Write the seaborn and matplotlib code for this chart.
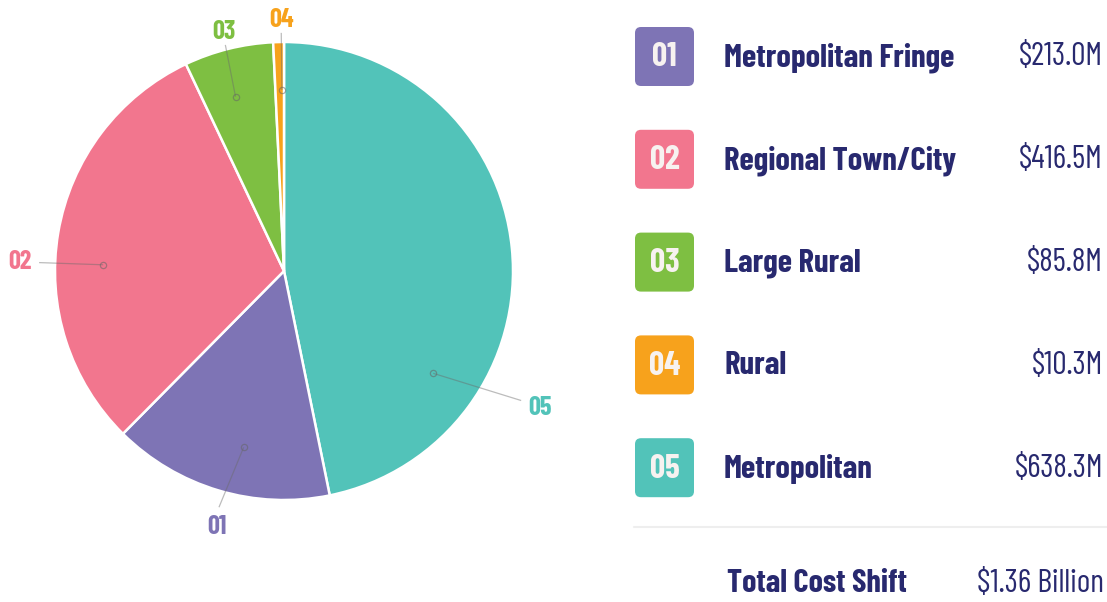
import matplotlib
matplotlib.use('Agg')
import matplotlib.pyplot as plt
import seaborn as sns
import numpy as np
from matplotlib import font_manager
from matplotlib.patches import FancyBboxPatch

# ---------------- data ----------------
codes = ['01', '02', '03', '04', '05']
names = ['Metropolitan Fringe', 'Regional Town/City', 'Large Rural', 'Rural', 'Metropolitan']
values = [213.0, 416.5, 85.8, 10.3, 638.3]
value_labels = ['$213.0M', '$416.5M', '$85.8M', '$10.3M', '$638.3M']
total_label = 'Total Cost Shift'
total_value = '$1.36 Billion'
colors = ['#7E74B5', '#F2768E', '#7EBF42', '#F7A21C', '#52C3B9']
pie_order = [4, 0, 1, 2, 3]          # clockwise from 12 o'clock
label_shift = [3.7, 7.7, 1.5, -0.7, -40.2]   # degrees, leader anchor tweak
leader_turn = [-2.5, 0.0, -1.0, 0.0, 5.8]
leader_len = [1.07, 1.07, 1.02, 1.04, 1.18]

sns.set_theme(style='white')
avail = {f.name for f in font_manager.fontManager.ttflist}
cands = ['Barlow Condensed', 'Roboto Condensed', 'Open Sans Condensed',
         'Liberation Sans Narrow', 'DejaVu Sans Condensed', 'Roboto', 'DejaVu Sans']
FONT = next(c for c in cands if c in avail)
plt.rcParams['font.family'] = [FONT, 'DejaVu Sans']

NAVY = '#28296F'
BOLD = 700

fig = plt.figure(figsize=(11.07, 6.02), dpi=100)
renderer = fig.canvas.get_renderer()

# ---------------- pie ----------------
R = 229.0
half = 1.3 * R
ax = fig.add_axes([(284 - half) / 1107, (602 - 271 - half) / 602, 2 * half / 1107, 2 * half / 602])
wedges, _ = ax.pie([values[i] for i in pie_order], colors=[colors[i] for i in pie_order],
                   startangle=90, counterclock=False, radius=1,
                   wedgeprops=dict(edgecolor='white', linewidth=1.8))
ax.set_xlim(-1.3, 1.3)
ax.set_ylim(-1.3, 1.3)
ax.axis('off')

for k, w in enumerate(wedges):
    i = pie_order[k]
    mid = (w.theta1 + w.theta2) / 2 + label_shift[i]
    a = np.deg2rad(mid)
    b = np.deg2rad(mid + leader_turn[i])
    dot = (0.79 * np.cos(a), 0.79 * np.sin(a))
    end = (leader_len[i] * np.cos(b), leader_len[i] * np.sin(b))
    ax.plot([dot[0], end[0]], [dot[1], end[1]], color='#6b6b6b', lw=0.9, alpha=0.45,
            solid_capstyle='butt', clip_on=False)
    ax.plot([dot[0]], [dot[1]], marker='o', ms=4.5, mfc='none', mec='#666666',
            mew=0.9, alpha=0.55, clip_on=False)
    c, s = np.cos(b), np.sin(b)
    ha = 'left' if c > 0.5 else ('right' if c < -0.5 else 'center')
    if s > 0.5:
        va, off = 'baseline', 4.5
    elif s < -0.5:
        va, off = 'top', 6.0
    else:
        va, off = 'center', 5.5
    ax.annotate(codes[i], xy=end, xytext=(c * off, s * off - (3 if va == 'center' and c > 0 else 0)),
                textcoords='offset points', ha=ha, va=va, color=colors[i],
                fontweight=BOLD, fontsize=19, annotation_clip=False)

# ---------------- legend panel ----------------
lax = fig.add_axes([0, 0, 1, 1])
lax.set_xlim(0, 1107)
lax.set_ylim(602, 0)
lax.axis('off')


def fit_group(texts, ref, target_w, max_size):
    ref.set_fontsize(max_size)
    w = ref.get_window_extent(renderer).width
    size = max_size * min(1.0, target_w / w)
    for t in texts:
        t.set_fontsize(size)


num_texts, name_texts, val_texts = [], [], []
for i in range(len(codes)):
    y = 56.5 + i * 102.8
    r = 6
    lax.add_patch(FancyBboxPatch((635 + r, y - 29.5 + r), 59 - 2 * r, 59 - 2 * r,
                                 boxstyle=f'round,pad={r}', fc=colors[i], ec='none'))
    num_texts.append(lax.text(664.5, y + 1, codes[i], ha='center', va='center',
                              color='#F7F2F0', fontweight=BOLD, fontsize=24))
    name_texts.append(lax.text(724, y + 1, names[i], ha='left', va='center',
                               color=NAVY, fontweight=BOLD))
    val_texts.append(lax.text(1103, y + 1, value_labels[i], ha='right', va='center',
                              color=NAVY, fontweight='normal'))

fit_group(name_texts, name_texts[0], 230, 24)
fit_group(val_texts, val_texts[4], 90, 23)

lax.plot([634, 1107], [527, 527], color='#EEEEEE', lw=1.5)
tl = lax.text(727, 584, total_label, ha='left', va='center', color=NAVY, fontweight=BOLD)
tv = lax.text(1104, 584, total_value, ha='right', va='center', color=NAVY, fontweight='normal')
fit_group([tl], tl, 180, 24)
fit_group([tv], tv, 127, 23.5)

fig.savefig('out.png', dpi=100, facecolor='white')
